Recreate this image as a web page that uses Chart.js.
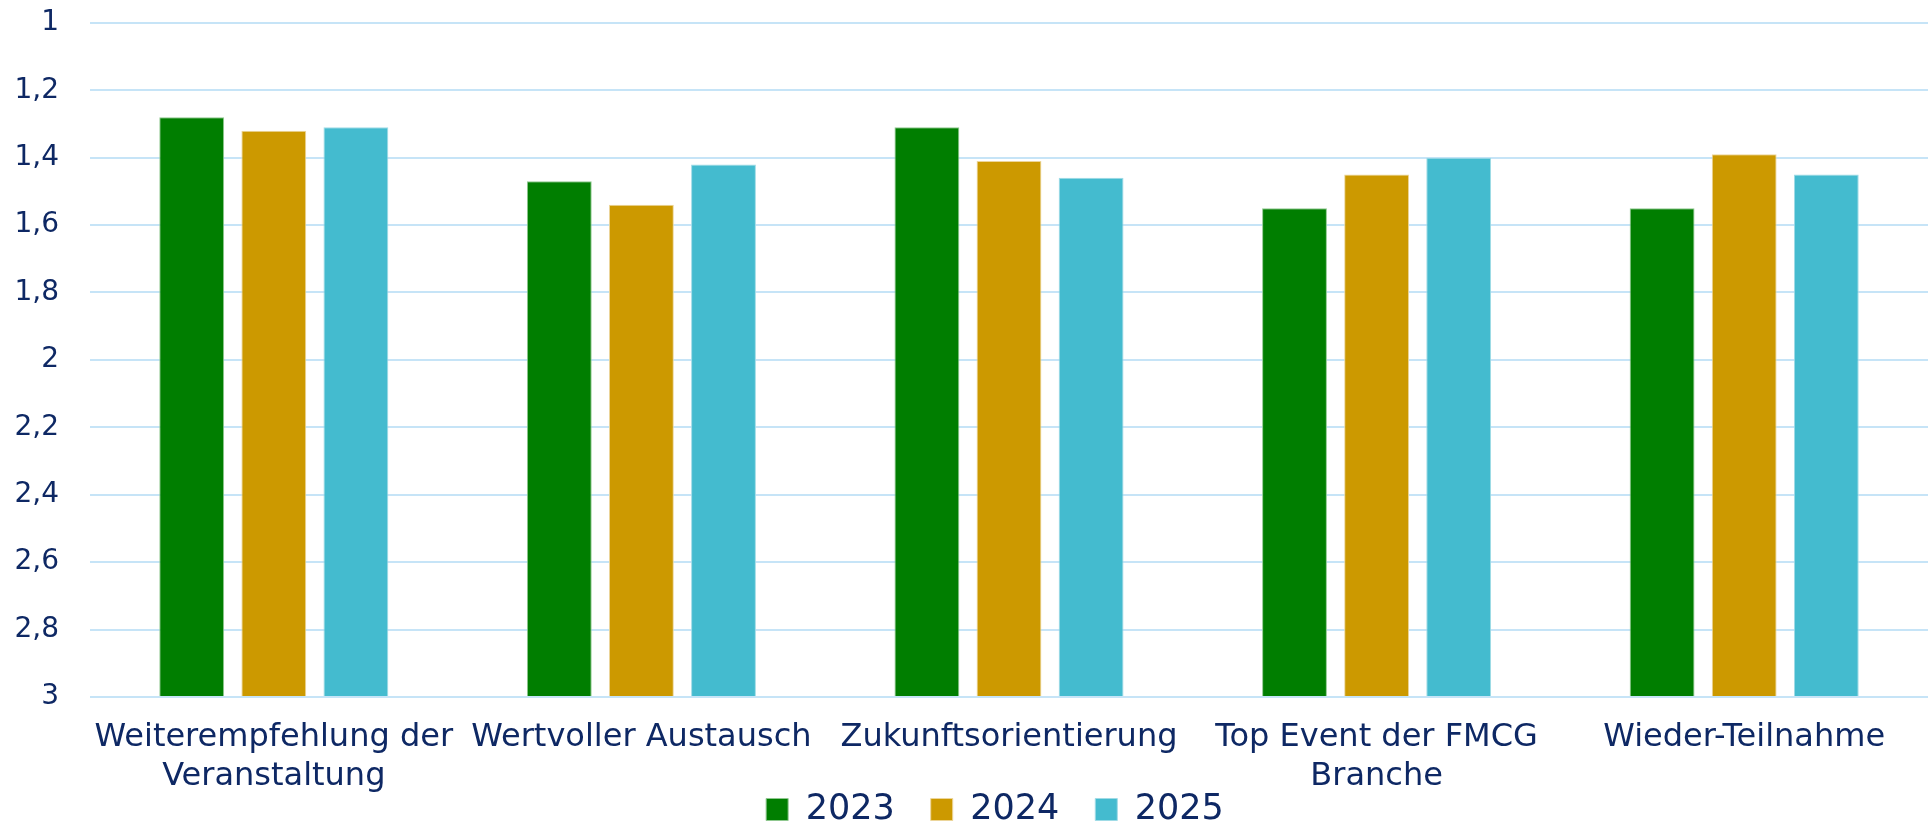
<!DOCTYPE html>
<html>
<head>
<meta charset="utf-8">
<script src="https://cdn.jsdelivr.net/npm/chart.js"></script>
<style>
  html, body { margin: 0; padding: 0; background: #fff; overflow: hidden; }
  body { width: 1931px; height: 824px; position: relative; }
  /* etwas größer als das Fenster, damit Achsen und Legende wie im Original sitzen */
  #wrap { position: absolute; left: 0; top: -25px; width: 1931px; height: 903px; }
</style>
</head>
<body>
<div id="wrap"><canvas id="chart"></canvas></div>
<script>
// Daten
const categories = [
    ['Weiterempfehlung der', 'Veranstaltung'],
    'Wertvoller Austausch',
    'Zukunftsorientierung',
    ['Top Event der FMCG', 'Branche'],
    'Wieder-Teilnahme'
];
const values2023 = [1.28, 1.47, 1.31, 1.55, 1.55];
const values2024 = [1.32, 1.54, 1.41, 1.45, 1.39];
const values2025 = [1.31, 1.42, 1.46, 1.40, 1.45];
const seriesLabels = ['2023', '2024', '2025'];

const navy = '#0e2864';
const fontFamily = '"DejaVu Sans", sans-serif';

// Legende etwas näher an die Achsenbeschriftung rücken und über dem Plotbereich zentrieren
const legendShift = {
    id: 'legendShift',
    afterLayout(chart) {
        const l = chart.legend;
        l.top -= 41;
        l.bottom -= 41;
        l.left += 31;
        l.right += 31;
    }
};

const ctx = document.getElementById('chart').getContext('2d');
new Chart(ctx, {
    type: 'bar',
    data: {
        labels: categories,
        datasets: [
            { label: seriesLabels[0], data: values2023, backgroundColor: '#007e00', borderColor: '#8fc88f', borderWidth: 1, base: 3 },
            { label: seriesLabels[1], data: values2024, backgroundColor: '#cc9900', borderColor: '#ecd59a', borderWidth: 1, base: 3 },
            { label: seriesLabels[2], data: values2025, backgroundColor: '#44bbcf', borderColor: '#9fdbe6', borderWidth: 1, base: 3 }
        ]
    },
    options: {
        responsive: true,
        maintainAspectRatio: false,
        animation: false,
        layout: { padding: { top: 0, right: 3, left: 0, bottom: 0 } },
        datasets: {
            bar: { categoryPercentage: 0.67, barPercentage: 0.79 }
        },
        scales: {
            x: {
                afterFit: (scale) => { scale.height = 100; },
                grid: { display: false },
                border: { display: false },
                ticks: {
                    color: navy,
                    font: { family: fontFamily, size: 32, lineHeight: 1.22 },
                    maxRotation: 0,
                    autoSkip: false,
                    padding: 13
                }
            },
            y: {
                reverse: true,
                min: 1,
                max: 3,
                afterFit: (scale) => { scale.width = 90; },
                grid: { color: '#c6e4f7', lineWidth: 2, drawTicks: false },
                border: { display: false },
                ticks: {
                    stepSize: 0.2,
                    color: navy,
                    padding: 31,
                    font: { family: fontFamily, size: 28 },
                    callback: (v) => String(Math.round(v * 10) / 10).replace('.', ',')
                }
            }
        },
        plugins: {
            tooltip: { enabled: false },
            legend: {
                position: 'bottom',
                labels: {
                    color: navy,
                    font: { family: fontFamily, size: 35, lineHeight: 1 },
                    boxWidth: 22,
                    boxHeight: 22,
                    padding: 36
                }
            }
        }
    },
    plugins: [legendShift]
});
</script>
</body>
</html>
